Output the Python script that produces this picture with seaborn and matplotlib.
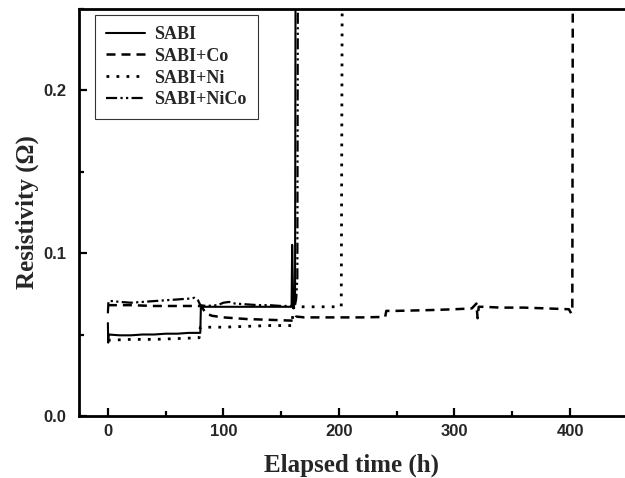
import numpy as np
import pandas as pd
import matplotlib
matplotlib.use("Agg")
import matplotlib.pyplot as plt
from matplotlib.ticker import MultipleLocator, FormatStrFormatter
import seaborn as sns

# Elapsed time (h) and resistivity (ohm)
t_sabi = [0, 0.3, 0.6, 10, 20, 30, 40, 50, 60, 70, 80, 80.5, 90, 100, 110, 120,
          130, 140, 150, 159, 159.5, 160.5, 162, 162.5]
r_sabi = [0.057, 0.045, 0.050, 0.0495, 0.0495, 0.050, 0.050, 0.0505, 0.0505,
          0.051, 0.051, 0.067, 0.067, 0.067, 0.067, 0.067, 0.067, 0.067,
          0.067, 0.067, 0.105, 0.066, 0.070, 0.30]

t_co = [0, 20, 40, 60, 80, 82, 85, 90, 100, 110, 120, 140, 160, 162, 163, 170,
        200, 220, 240, 241, 250, 280, 300, 315, 319, 320, 321, 325, 340, 360,
        380, 399, 401, 402, 402.5]
r_co = [0.068, 0.068, 0.0675, 0.0675, 0.0675, 0.066, 0.063, 0.0615, 0.0605,
        0.060, 0.0595, 0.059, 0.0585, 0.0585, 0.061, 0.0605, 0.0605, 0.0605,
        0.0608, 0.0645, 0.0645, 0.065, 0.0655, 0.066, 0.069, 0.060, 0.067,
        0.067, 0.0665, 0.0665, 0.066, 0.0655, 0.063, 0.065, 0.30]

t_ni = [0, 20, 40, 60, 79, 80, 100, 120, 140, 159, 161, 163, 180, 202, 203]
r_ni = [0.0465, 0.047, 0.047, 0.0475, 0.048, 0.0545, 0.0545, 0.055, 0.0555,
        0.0555, 0.067, 0.067, 0.067, 0.067, 0.30]

t_nico = [0, 0.5, 5, 10, 20, 30, 40, 50, 60, 70, 75, 78, 80, 85, 95, 100, 105,
          110, 120, 130, 140, 150, 160, 162, 163, 164, 164.5]
r_nico = [0.063, 0.0705, 0.0705, 0.070, 0.0695, 0.070, 0.0705, 0.071, 0.0715,
          0.072, 0.0725, 0.071, 0.068, 0.0675, 0.068, 0.0695, 0.070, 0.069,
          0.0685, 0.068, 0.068, 0.0675, 0.0675, 0.068, 0.072, 0.085, 0.30]

series = [
    ('SABI', t_sabi, r_sabi, '-', 1.5),
    ('SABI+Co', t_co, r_co, (0, (3.6, 2.4)), 1.8),
    ('SABI+Ni', t_ni, r_ni, (0, (1, 2.6)), 2.0),
    ('SABI+NiCo', t_nico, r_nico, (0, (5, 1.5, 1, 1.5, 1, 1.5)), 1.6),
]

sns.set_style('ticks')
plt.rcParams['font.family'] = ['Liberation Sans', 'DejaVu Sans']

fig = plt.figure(figsize=(6.25, 4.78), dpi=100)
ax = fig.add_axes([0.1264, 0.1297, 0.8736, 0.8525])

for name, t, r, ls, lw in series:
    df = pd.DataFrame({'t': t, 'r': r})
    sns.lineplot(data=df, x='t', y='r', sort=False, estimator=None,
                 color='black', linestyle=ls, linewidth=lw, label=name, ax=ax)

ax.set_xlim(-25, 447.6)
ax.set_ylim(0, 0.25)
ax.xaxis.set_major_locator(MultipleLocator(100))
ax.xaxis.set_minor_locator(MultipleLocator(50))
ax.yaxis.set_major_locator(MultipleLocator(0.1))
ax.yaxis.set_minor_locator(MultipleLocator(0.05))
ax.yaxis.set_major_formatter(FormatStrFormatter('%.1f'))
ax.tick_params(which='both', direction='in', width=1.6, top=False, right=False,
               labelsize=12, color='black')
ax.tick_params(which='major', length=6)
ax.tick_params(which='minor', length=3.5)
ax.tick_params(axis='y', which='major', pad=9)
ax.tick_params(axis='x', which='major', pad=6)
for lab in ax.get_xticklabels() + ax.get_yticklabels():
    lab.set_fontweight('bold')

for side in ['left', 'bottom', 'top']:
    ax.spines[side].set_linewidth(2.0)
    ax.spines[side].set_color('black')
ax.spines['right'].set_visible(False)

serif = ['Liberation Serif', 'DejaVu Serif']
ax.set_xlabel('Elapsed time (h)', fontsize=18, fontweight='bold', family=serif,
              labelpad=10)
ax.set_ylabel('Resistivity (Ω)', fontsize=18, fontweight='bold', family=serif,
              labelpad=3)

leg = ax.legend(loc='upper left', bbox_to_anchor=(0.029, 0.984),
                borderaxespad=0, fancybox=False, frameon=True,
                prop={'family': serif, 'weight': 'bold', 'size': 13},
                handlelength=2.2, handletextpad=0.5, labelspacing=0.27,
                borderpad=0.6)
leg.get_frame().set_edgecolor('black')
leg.get_frame().set_linewidth(0.8)

fig.savefig('out.png', dpi=100)
